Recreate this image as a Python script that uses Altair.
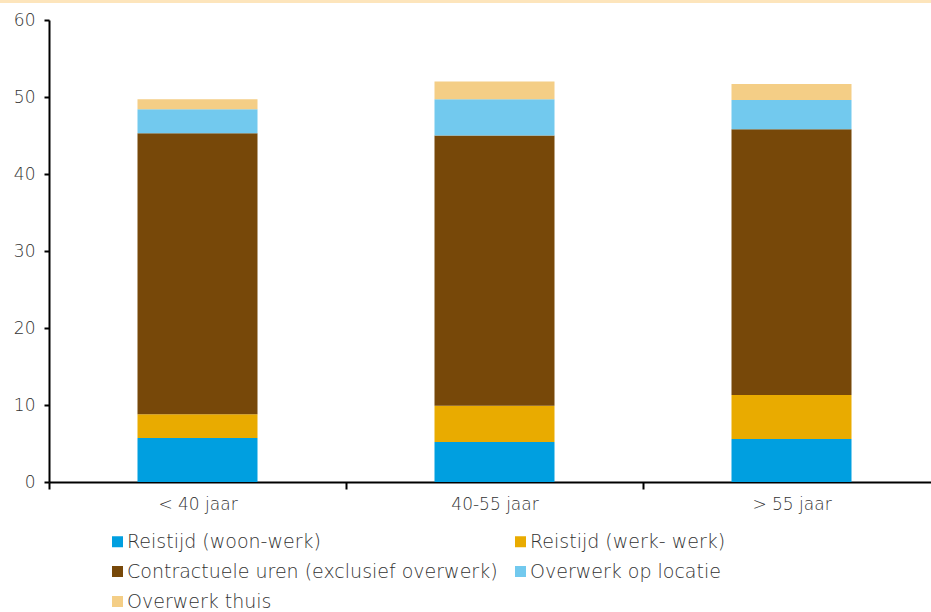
import altair as alt
import pandas as pd

# Weekly hours by age group, split into components
age_groups = ["< 40 jaar", "40-55 jaar", "> 55 jaar"]
series = [
    "Reistijd (woon-werk)",
    "Reistijd (werk- werk)",
    "Contractuele uren (exclusief overwerk)",
    "Overwerk op locatie",
    "Overwerk thuis",
]
reistijd_woon_werk = [5.7, 5.2, 5.6]
reistijd_werk_werk = [3.1, 4.7, 5.7]
contractuele_uren = [36.5, 35.1, 34.5]
overwerk_locatie = [3.1, 4.7, 3.8]
overwerk_thuis = [1.3, 2.3, 2.1]
colors = ["#009FE0", "#E9AB00", "#774809", "#72C9EE", "#F4CE86"]

values_by_series = [
    reistijd_woon_werk,
    reistijd_werk_werk,
    contractuele_uren,
    overwerk_locatie,
    overwerk_thuis,
]
rows = []
for s_idx, (name, vals) in enumerate(zip(series, values_by_series)):
    for g, v in zip(age_groups, vals):
        rows.append({"groep": g, "onderdeel": name, "uren": v, "volgorde": s_idx})
df = pd.DataFrame(rows)

FONT = "DejaVu Sans"
WEIGHT = 200
TEXT_COLOR = "#333333"

bars = alt.Chart(df).mark_bar(size=120).encode(
    x=alt.X(
        "groep:N",
        sort=age_groups,
        scale=alt.Scale(range=[0, 891], paddingInner=0, paddingOuter=0),
        axis=alt.Axis(
            title=None,
            labelAngle=0,
            tickBand="extent",
            tickSize=7,
            tickColor="black",
            tickWidth=2,
            domainColor="black",
            domainWidth=2,
            labelPadding=7,
            labelFontSize=17,
            labelColor=TEXT_COLOR,
            labelFont=FONT,
            labelFontWeight=WEIGHT,
        ),
    ),
    y=alt.Y(
        "uren:Q",
        stack="zero",
        scale=alt.Scale(domain=[0, 60]),
        axis=alt.Axis(
            title=None,
            values=[0, 10, 20, 30, 40, 50, 60],
            grid=False,
            tickSize=5,
            tickColor="black",
            tickWidth=2,
            domainColor="black",
            domainWidth=2,
            labelPadding=9,
            labelFontSize=17,
            labelColor=TEXT_COLOR,
            labelFont=FONT,
            labelFontWeight=WEIGHT,
        ),
    ),
    color=alt.Color(
        "onderdeel:N",
        sort=series,
        scale=alt.Scale(domain=series, range=colors),
        legend=alt.Legend(
            title=None,
            orient="none",
            legendX=59,
            legendY=512,
            direction="horizontal",
            columns=2,
            columnPadding=13,
            rowPadding=10,
            symbolType="square",
            symbolSize=121,
            symbolStrokeWidth=0,
            labelFontSize=19,
            labelFont=FONT,
            labelFontWeight=WEIGHT,
            labelColor=TEXT_COLOR,
            labelOffset=0,
            labelLimit=0,
            padding=0,
        ),
    ),
    order=alt.Order("volgorde:Q", sort="ascending"),
)

# thin accent band along the top edge
accent = alt.Chart(alt.Data(values=[{}])).mark_rule(
    color="#FDE5BC", strokeWidth=3, clip=False
).encode(
    x=alt.value(-49),
    x2=alt.value(882),
    y=alt.value(-18.5),
)

chart = alt.layer(accent, bars).properties(
    width=882,
    height=462,
    autosize=alt.AutoSizeParams(type="none"),
    padding={"left": 49, "top": 20, "right": 0, "bottom": 130},
).configure_view(stroke=None)

chart.save("out.html", embed_options={"renderer": "svg", "actions": False})
